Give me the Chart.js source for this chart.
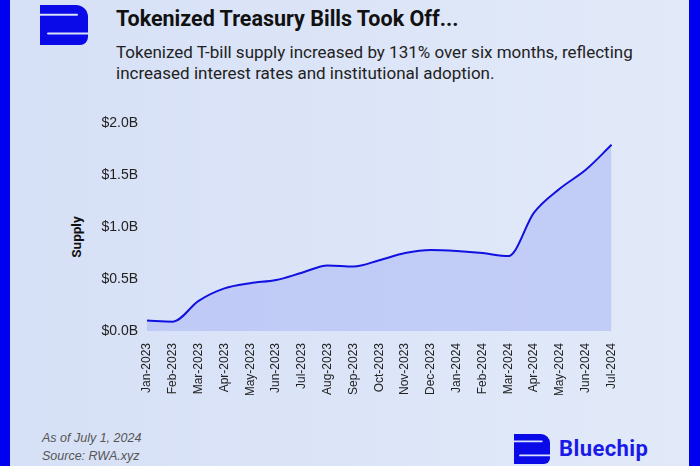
<!DOCTYPE html>
<html><head><meta charset="utf-8">
<script src="https://cdn.jsdelivr.net/npm/chart.js@4.4.1/dist/chart.umd.min.js"></script>
<style>
html,body{margin:0;padding:0;}
body{width:700px;height:466px;overflow:hidden;position:relative;background:linear-gradient(to right,#d6e0f6,#e2eaf9);font-family:Roboto,"Liberation Sans",Arial,sans-serif;}
.bl{position:absolute;left:0;top:0;width:10px;height:466px;background:#0000f0;}
.br{position:absolute;right:0;top:0;width:11px;height:466px;background:#0000f0;}
#title{position:absolute;left:116px;top:6px;font-size:21.5px;font-weight:700;color:#111;white-space:nowrap;}
#sub{position:absolute;left:116px;top:42px;font-size:17px;line-height:21px;color:#222;white-space:nowrap;}
#foot{position:absolute;left:42px;top:429px;font-family:"Liberation Sans",Arial,sans-serif;font-style:italic;font-size:12.5px;line-height:18px;color:#555;}
#brand{position:absolute;left:559px;top:436px;font-size:22px;font-weight:700;color:#1a1ae8;letter-spacing:0.4px;}
#ytitle{position:absolute;left:76px;top:237px;transform:translate(-50%,-50%) rotate(-90deg);font-size:13.5px;font-weight:700;color:#111;white-space:nowrap;}
#wrap{position:absolute;left:60px;top:110px;width:570px;height:285px;}
svg{position:absolute;}
</style></head><body>
<div class="bl"></div><div class="br"></div>
<svg style="left:40px;top:5px" width="48" height="40" viewBox="0 0 48 40">
 <path fill="#0a0ae8" d="M0,0 H36 A12,12 0 0 1 48,12 V32 A8,8 0 0 1 40,40 H0 Z"/>
 <path d="M-2,9.8 H37" stroke="#d8e1f7" stroke-width="2" stroke-linecap="round"/>
 <path d="M8,28.6 H50" stroke="#d8e1f7" stroke-width="2" stroke-linecap="round"/>
</svg>
<svg style="left:514px;top:434px" width="36" height="30" viewBox="0 0 48 40" preserveAspectRatio="none">
 <path fill="#0a0ae8" d="M0,0 H36 A12,12 0 0 1 48,12 V32 A8,8 0 0 1 40,40 H0 Z"/>
 <path d="M-2,9.8 H37" stroke="#d8e1f7" stroke-width="2.4" stroke-linecap="round"/>
 <path d="M8,28.6 H50" stroke="#d8e1f7" stroke-width="2.4" stroke-linecap="round"/>
</svg>
<div id="title">Tokenized Treasury Bills Took Off...</div>
<div id="sub">Tokenized T-bill supply increased by 131% over six months, reflecting<br>increased interest rates and institutional adoption.</div>
<div id="foot">As of July 1, 2024<br>Source: RWA.xyz</div>
<div id="brand">Bluechip</div>
<div id="ytitle">Supply</div>
<div id="wrap"><canvas id="c"></canvas></div>
<script>
const months = ["Jan-2023","Feb-2023","Mar-2023","Apr-2023","May-2023","Jun-2023","Jul-2023","Aug-2023","Sep-2023","Oct-2023","Nov-2023","Dec-2023","Jan-2024","Feb-2024","Mar-2024","Apr-2024","May-2024","Jun-2024","Jul-2024"];
const supplyB = [0.10,0.09,0.29,0.41,0.46,0.49,0.56,0.63,0.62,0.68,0.75,0.78,0.77,0.75,0.72,1.14,1.37,1.55,1.79];
const yTicks = [0,0.5,1.0,1.5,2.0];

new Chart(document.getElementById('c'),{
  type:'line',
  data:{labels:months,datasets:[{
    data:supplyB,
    borderColor:'#1010e0',
    borderWidth:2,
    backgroundColor:'rgba(170,182,245,0.55)',
    fill:'origin',
    pointRadius:0,
    tension:0.4,
    cubicInterpolationMode:'monotone'
  }]},
  options:{
    responsive:true,maintainAspectRatio:false,animation:false,
    layout:{padding:{top:13,right:17,left:0,bottom:0}},
    plugins:{legend:{display:false},tooltip:{enabled:false}},
    scales:{
      x:{
        grid:{display:false},border:{display:false},
        ticks:{color:'#222',font:{family:'"Liberation Sans",Arial,sans-serif',size:12},minRotation:90,maxRotation:90,padding:4,autoSkip:false},
        afterFit(s){s.height=64;}
      },
      y:{
        min:0,max:2.0,
        grid:{display:false},border:{display:false},
        afterBuildTicks(s){s.ticks=yTicks.map(v=>({value:v}));},
        ticks:{color:'#222',font:{family:'"Liberation Sans",Arial,sans-serif',size:14},padding:1,
          callback:v=>'$'+Number(v).toFixed(1)+'B'},
        afterFit(s){s.width=87;}
      }
    }
  }
});
</script>
</body></html>
